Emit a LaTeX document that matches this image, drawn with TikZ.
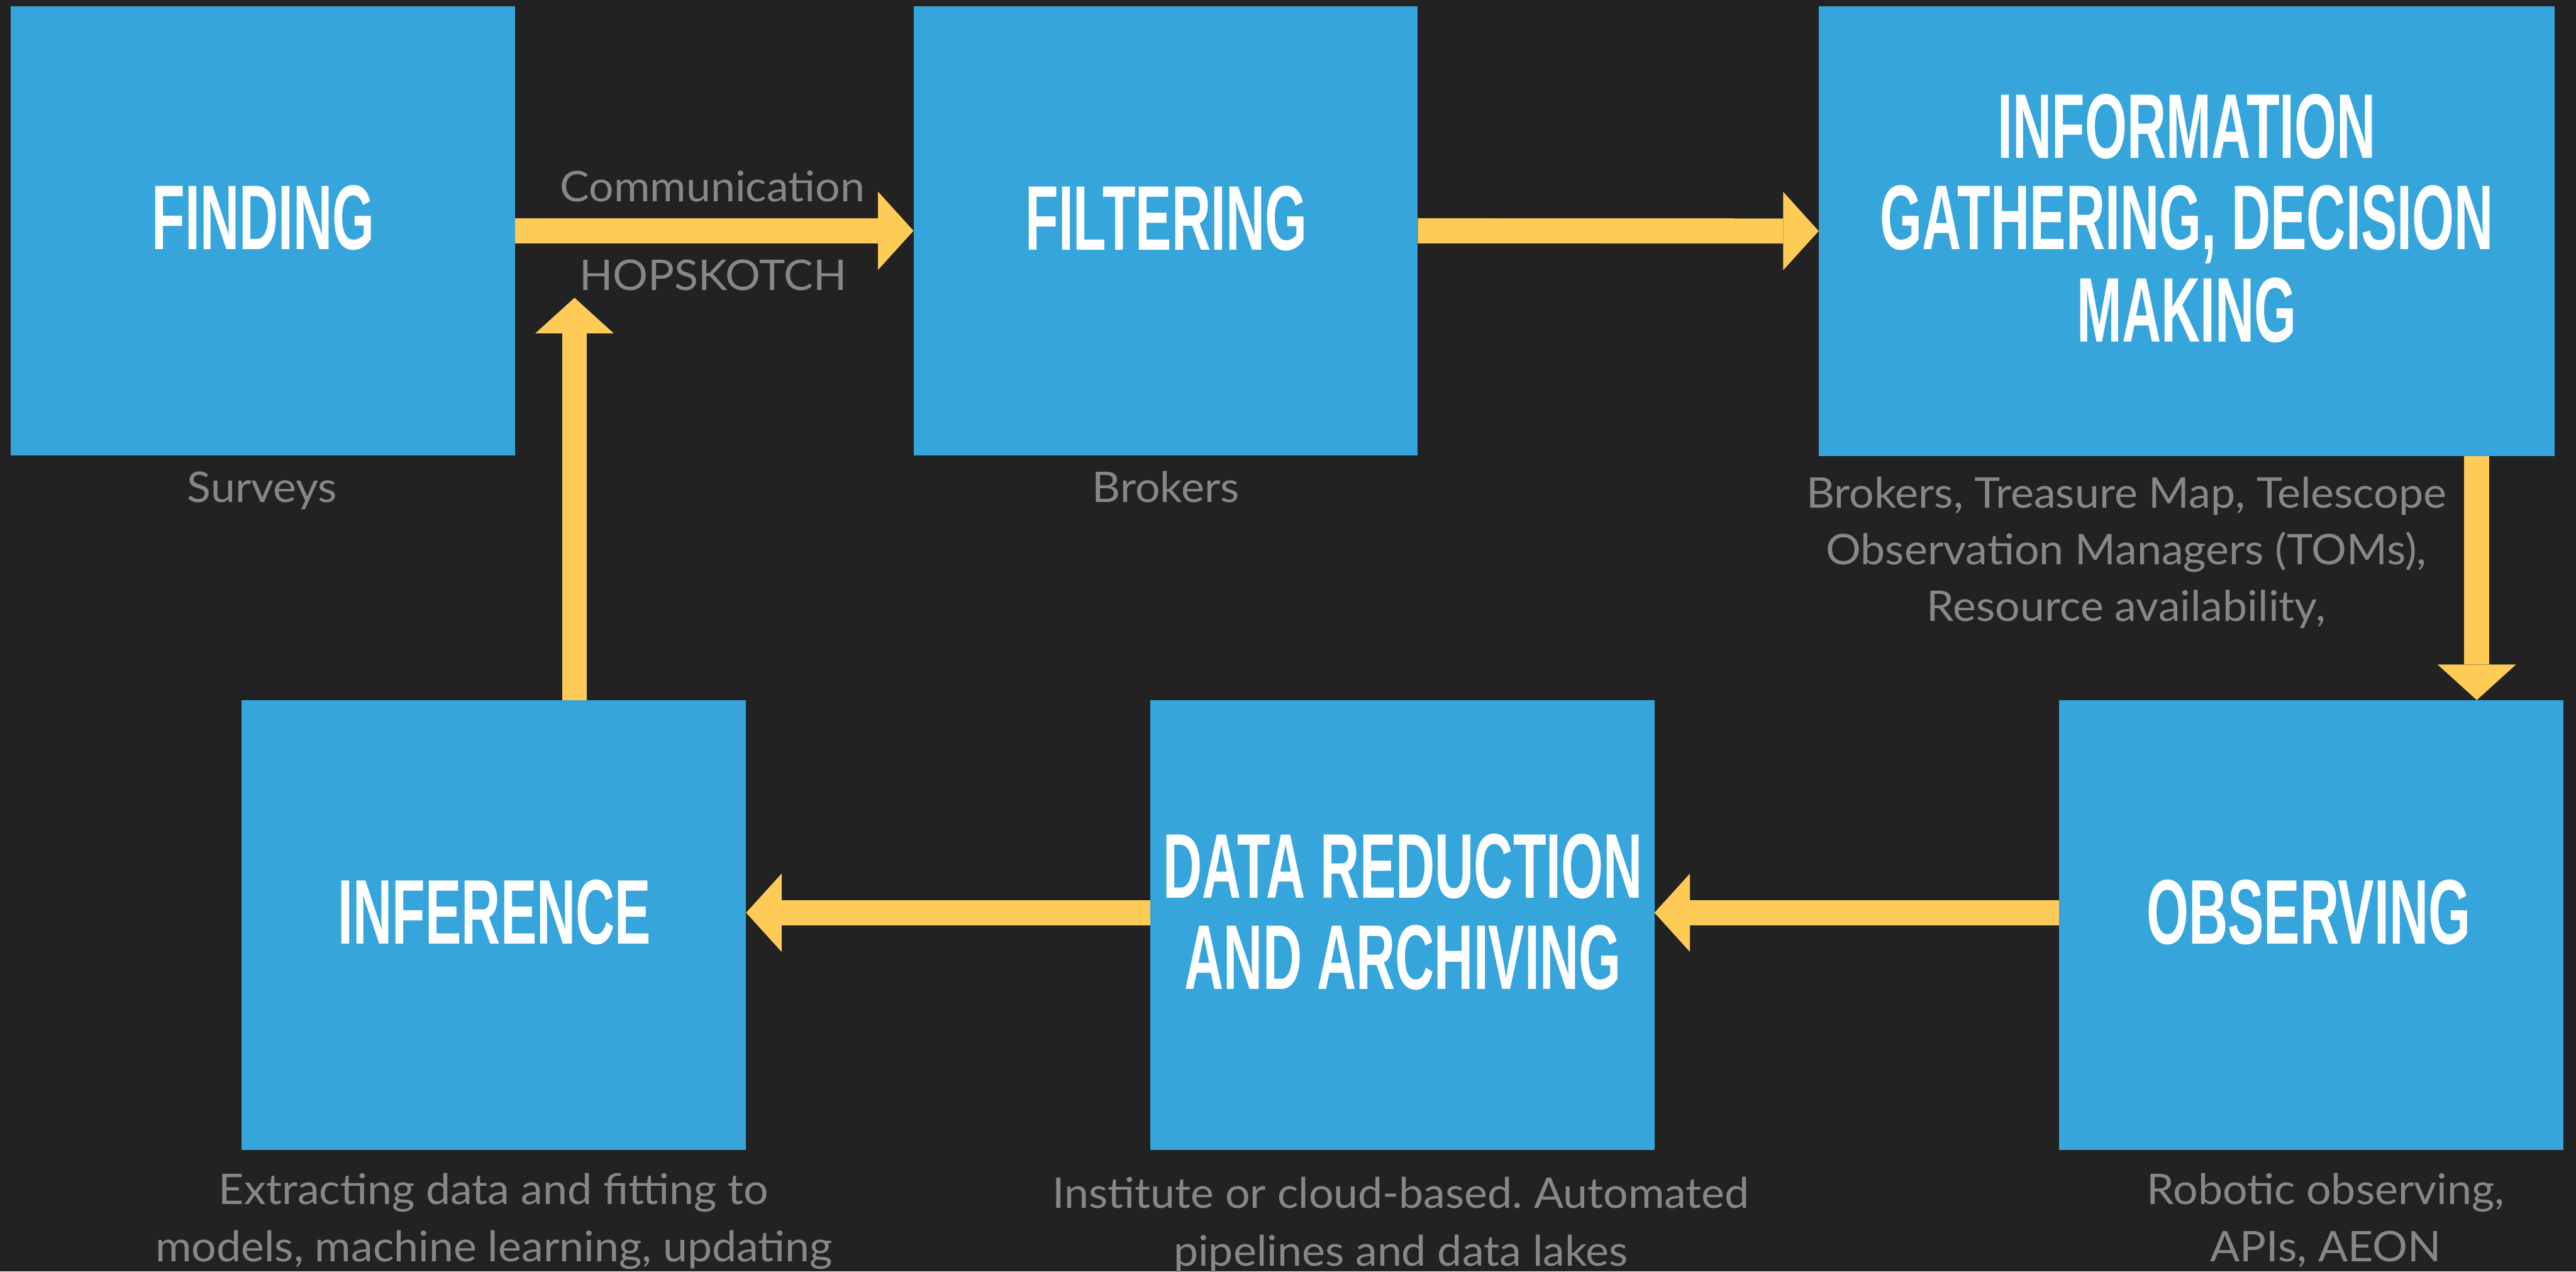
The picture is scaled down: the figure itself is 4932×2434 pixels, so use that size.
\documentclass[tikz,border=0pt]{standalone}
\usepackage{fontspec}
\usetikzlibrary{arrows.meta}
\newfontfamily\labelfont{Liberation Sans Bold}[FakeStretch=0.59]
\newfontfamily\notefont{Lato}[FakeStretch=1.04]
\definecolor{bgdark}{HTML}{222222}
\definecolor{boxblue}{HTML}{35A5DB}
\definecolor{flowyellow}{HTML}{FECB57}
\definecolor{notegray}{HTML}{858889}
\tikzset{
  stagebox/.style={rectangle, fill=boxblue, draw=none, inner sep=0pt, outer sep=0pt, anchor=north west},
  stagelabel/.style={font=\labelfont\fontsize{50}{60}\selectfont, text=white, inner sep=0pt, anchor=base},
  note/.style={font=\notefont\fontsize{23}{31}\selectfont\frenchspacing, text=notegray, inner sep=0pt, anchor=base},
  flow/.style={draw=flowyellow, line width=0.48cm,
    -{Triangle[length=0.68cm, width=1.5cm, line width=0pt, fill=flowyellow]}},
}
\begin{document}
% one unit = one pixel of a 4932 x 2434 canvas, y pointing down
\begin{tikzpicture}[x=0.01cm, y=-0.01cm]
  \fill[bgdark] (0,0) rectangle (4932,2434);
  \useasboundingbox (0,0) rectangle (4932,2434);

  % stage boxes
  \node[stagebox, minimum width=9.65cm, minimum height=8.59cm] (find)  at (20,12) {};
  \node[stagebox, minimum width=9.65cm, minimum height=8.59cm] (filt)  at (1749,12) {};
  \node[stagebox, minimum width=14.08cm, minimum height=8.60cm] (info) at (3482,12) {};
  \node[stagebox, minimum width=9.66cm, minimum height=8.60cm] (infer) at (462,1340) {};
  \node[stagebox, minimum width=9.65cm, minimum height=8.60cm] (data)  at (2202,1340) {};
  \node[stagebox, minimum width=9.65cm, minimum height=8.60cm] (obs)   at (3942,1340) {};

  % stage titles
  \node[stagelabel] (findT)  at (504,478)  {FINDING};
  \node[stagelabel] (filtT)  at (2233,479) {FILTERING};
  \node[stagelabel] (infoT1) at (4187,303) {INFORMATION};
  \node[stagelabel] (infoT2) at (4187,478) {GATHERING, DECISION};
  \node[stagelabel] (infoT3) at (4187,654) {MAKING};
  \node[stagelabel] (inferT) at (947,1807) {INFERENCE};
  \node[stagelabel] (dataT1) at (2686,1719) {DATA REDUCTION};
  \node[stagelabel] (dataT2) at (2686,1894) {AND ARCHIVING};
  \node[stagelabel] (obsT)   at (4420,1807) {OBSERVING};

  % connectors
  \coordinate (upend) at (1100,570);
  \coordinate (downx) at (4742,0);
  \coordinate (lowrow) at (0,1747);
  \draw[flow] (find.east) -- (filt.west);
  \draw[flow] (filt.east) -- (info.west);
  \draw[flow] (info.south -| downx) -- (obs.north -| downx);
  \draw[flow] (obs.west |- lowrow) -- (data.east |- lowrow);
  \draw[flow] (data.west |- lowrow) -- (infer.east |- lowrow);
  \draw[flow] (infer.north -| upend) -- (upend);

  % notes
  \node[note] (comm)   at (1364,386) {Communication};
  \node[note] (hop)    at (1365,556) {HOPSKOTCH};
  \node[note] (surv)   at (502,961)  {Surveys};
  \node[note] (brok)   at (2232,961) {Brokers};
  \node[note] (infoN1) at (4071,972)  {Brokers, Treasure Map, Telescope};
  \node[note] (infoN2) at (4071,1081) {Observation Managers (TOMs),};
  \node[note] (infoN3) at (4071,1189) {Resource availability,};
  \node[note] (inferN1) at (945,2305) {Extracting data and fitting to};
  \node[note] (inferN2) at (946,2415) {models, machine learning, updating};
  \node[note] (dataN1) at (2682,2313) {Institute or cloud-based. Automated};
  \node[note] (dataN2) at (2682,2423) {pipelines and data lakes};
  \node[note] (obsN1)  at (4453,2305) {Robotic observing,};
  \node[note] (obsN2)  at (4453,2415) {APIs, AEON};
\end{tikzpicture}
\end{document}
